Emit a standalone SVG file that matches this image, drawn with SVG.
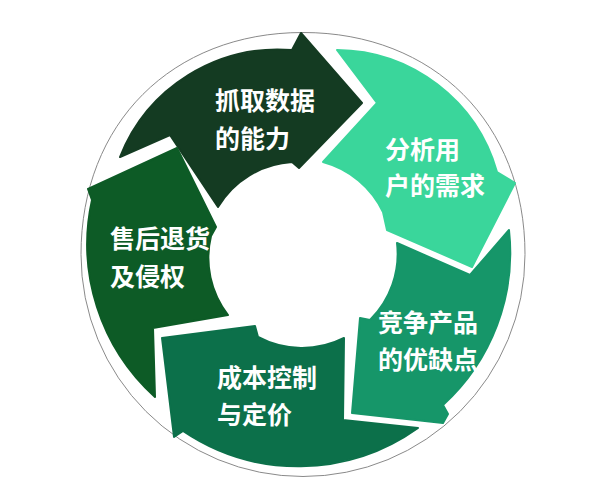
<svg xmlns="http://www.w3.org/2000/svg" width="601" height="502" viewBox="0 0 601 502">
  <style>
    .seg { stroke-width: 2; stroke-linejoin: round; }
    .lbl { font-family: "Noto Sans CJK SC", "Noto Sans", sans-serif; font-size: 25px; font-weight: bold; fill: #ffffff; dominant-baseline: central; }
  </style>
  <rect width="601" height="502" fill="#ffffff"/>
  <path fill="none" stroke="#8a8a8a" stroke-width="1" d="M81,254.5 C81,123.5 172,32.5 303,32.5 C434,32.5 525,123.5 525,254.5 A222,222 0 0 1 81,254.5 Z"/>
  <g id="connectors"></g>
  <g id="node-capture">
    <path class="seg" fill="#143b22" stroke="#143b22" d="M120,157 A170,170 0 0 1 292,50 L301,33 L362,103 L299,168 L292,162 A93,93 0 0 0 218,207 L170,135 Z"/>
    <text class="lbl" x="215" y="99">抓取数据</text>
    <text class="lbl" x="215" y="137">的能力</text>
  </g>
  <g id="node-analyze">
    <path class="seg" fill="#3ad69b" stroke="#3ad69b" d="M337,50 A168,168 0 0 1 497,172 L515,183 L472,267 L387,230 L383,212 A93,93 0 0 0 323,162 L377,103 Z"/>
    <text class="lbl" x="385" y="148">分析用</text>
    <text class="lbl" x="385" y="184">户的需求</text>
  </g>
  <g id="node-compete">
    <path class="seg" fill="#169669" stroke="#169669" d="M509,230 A206,206 0 0 1 443,405 L448,414 L443,423 L352,413 L360,318 L370,320 A93,93 0 0 0 397,243 L470,275 Z"/>
    <text class="lbl" x="378" y="321">竞争产品</text>
    <text class="lbl" x="378" y="358">的优缺点</text>
  </g>
  <g id="node-cost">
    <path class="seg" fill="#0c704a" stroke="#0c704a" d="M418,428 A206,206 0 0 1 183,431 L174,437 L162,338 L255,326 L258,337 A93,93 0 0 0 344,338 L343,420 Z"/>
    <text class="lbl" x="217" y="376">成本控制</text>
    <text class="lbl" x="217" y="413">与定价</text>
  </g>
  <g id="node-aftersale">
    <path class="seg" fill="#0d5b26" stroke="#0d5b26" d="M155,397 A206,206 0 0 1 92,200 L88,189 L177,148 L216,227 L211,236 A93,93 0 0 0 228,315 L153,328 Z"/>
    <text class="lbl" x="110" y="237">售后退货</text>
    <text class="lbl" x="110" y="275">及侵权</text>
  </g>
</svg>
